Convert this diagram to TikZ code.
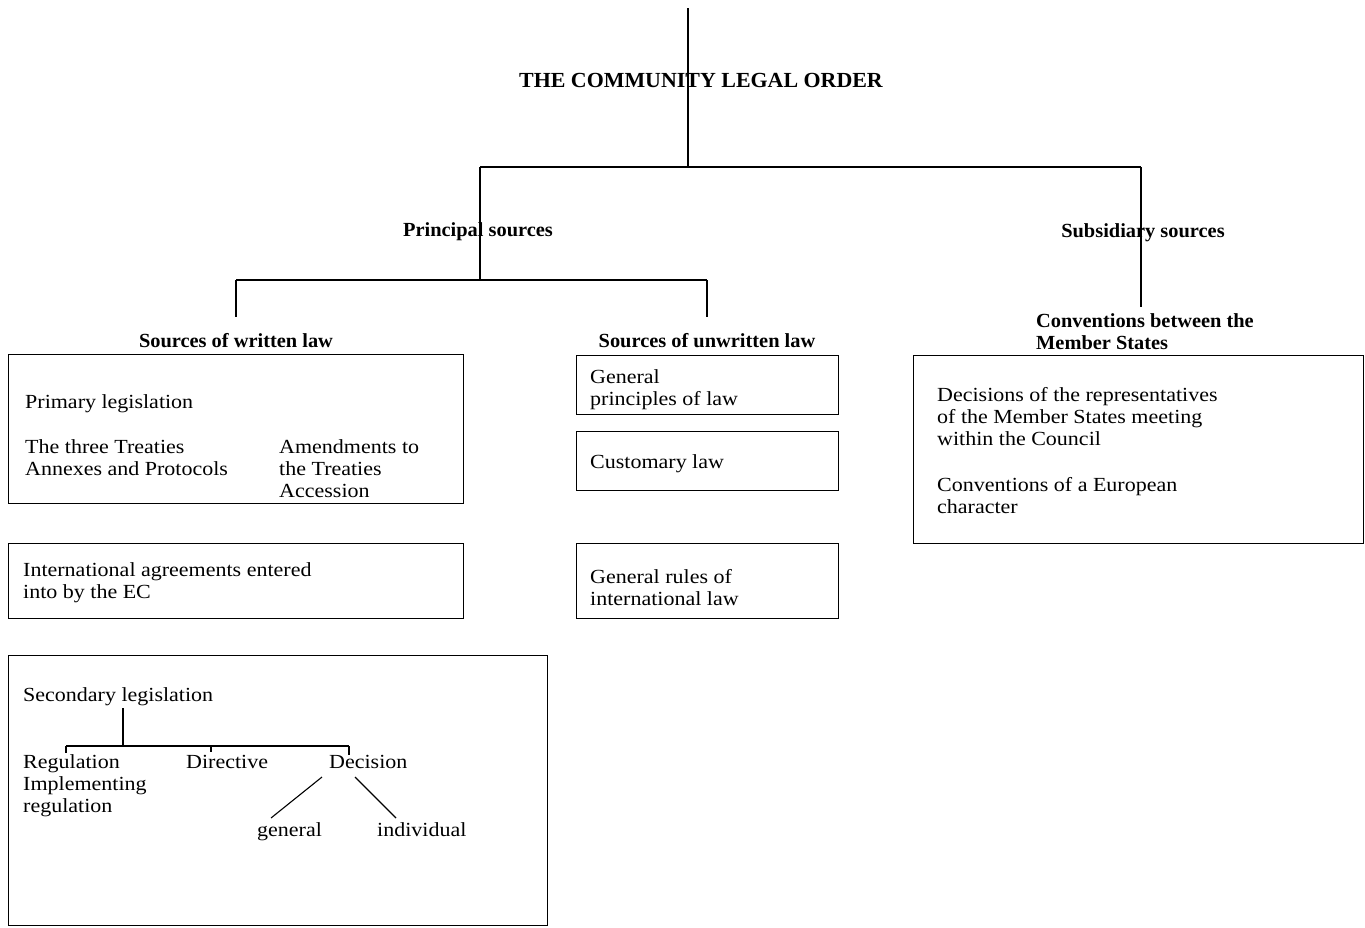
\documentclass[tikz,border=0pt]{standalone}
\usepackage{fontspec}
\setmainfont{Liberation Serif}[FakeStretch=1.1, BoldFeatures={FakeStretch=1.02}]
\begin{document}
\begin{tikzpicture}[x=1pt,y=-1pt,
  every node/.style={inner sep=0pt, font=\fontsize{20}{22}\selectfont},
  txt/.style={anchor=base west},
  hd/.style={font=\fontsize{20}{22}\selectfont\bfseries},
  box/.style={draw, line width=1.1pt},
  ln/.style={line width=1.1pt}]
\useasboundingbox (0,0) rectangle (1365,927);

% headings
\node[hd, font=\fontsize{21.5}{22}\selectfont\bfseries, anchor=base] (title) at (701,87) {THE COMMUNITY LEGAL ORDER};
\node[hd, anchor=base] (princ) at (478,236) {Principal sources};
\node[hd, anchor=base] (subs) at (1143,237) {Subsidiary sources};
\node[hd, anchor=base] (writ) at (236,347) {Sources of written law};
\node[hd, anchor=base] (unwr) at (707,347) {Sources of unwritten law};
\node[hd, txt] (conv) at (1036,327) {\vtop{\hbox{Conventions between the}\hbox{Member States}}};

% tree connectors
\coordinate (t0) at (688,8);
\coordinate (j0) at (688,167);
\coordinate (pl) at (480,167);
\coordinate (sl) at (1141,167);
\coordinate (j1) at (480,280);
\coordinate (wl) at (236,280);
\coordinate (ul) at (707,280);
\coordinate (wl2) at (236,317);
\coordinate (ul2) at (707,317);
\coordinate (s2) at (1141,307);
\draw[ln] (t0) -- (j0);
\draw[ln] (pl) -- (sl);
\draw[ln] (pl) -- (j1);
\draw[ln] (sl) -- (s2);
\draw[ln] (wl) -- (ul);
\draw[ln] (wl) -- (wl2);
\draw[ln] (ul) -- (ul2);

% written law boxes
\node[box, minimum width=455pt, minimum height=149pt, anchor=north west] (b1) at (8,354) {};
\node[txt] (prim) at (25,408) {Primary legislation};
\node[txt] (treat) at (25,453) {\vtop{\hbox{The three Treaties}\hbox{Annexes and Protocols}}};
\node[txt] (amend) at (279,453) {\vtop{\hbox{Amendments to}\hbox{the Treaties}\hbox{Accession}}};

\node[box, minimum width=455pt, minimum height=75pt, anchor=north west] (b2) at (8,543) {};
\node[txt] (intl) at (23,576) {\vtop{\hbox{International agreements entered}\hbox{into by the EC}}};

\node[box, minimum width=539pt, minimum height=270pt, anchor=north west] (b3) at (8,655) {};
\node[txt] (sec) at (23,701) {Secondary legislation};
\node[txt] (reg) at (23,768) {\vtop{\hbox{Regulation}\hbox{Implementing}\hbox{regulation}}};
\node[txt] (dir) at (186,768) {Directive};
\node[txt] (dec) at (329,768) {Decision};
\node[txt] (gen) at (257,836) {general};
\node[txt] (ind) at (377,836) {individual};

\coordinate (s0) at (123,708);
\coordinate (s1) at (123,746);
\coordinate (hr) at (66,746);
\coordinate (hdi) at (211,746);
\coordinate (hc) at (349,746);
\draw[ln] (s0) -- (s1);
\draw[ln] (hr) -- (hc);
\draw[ln] (hr) -- ++(0,7);
\draw[ln] (hdi) -- ++(0,6);
\draw[ln] (hc) -- ++(0,9);
\coordinate (d1) at (322,777);
\coordinate (d2) at (271,818);
\coordinate (d3) at (355,777);
\coordinate (d4) at (396,818);
\draw[ln] (d1) -- (d2);
\draw[ln] (d3) -- (d4);

% unwritten law boxes
\node[box, minimum width=262pt, minimum height=59pt, anchor=north west] (u1) at (576,355) {};
\node[txt] (gp) at (590,383) {\vtop{\hbox{General}\hbox{principles of law}}};
\node[box, minimum width=262pt, minimum height=59pt, anchor=north west] (u2) at (576,431) {};
\node[txt] (cust) at (590,468) {Customary law};
\node[box, minimum width=262pt, minimum height=75pt, anchor=north west] (u3) at (576,543) {};
\node[txt] (gr) at (590,583) {\vtop{\hbox{General rules of}\hbox{international law}}};

% subsidiary box
\node[box, minimum width=450pt, minimum height=188pt, anchor=north west] (r1) at (913,355) {};
\node[txt] (decr) at (937,401) {\vtop{\hbox{Decisions of the representatives}\hbox{of the Member States meeting}\hbox{within the Council}}};
\node[txt] (conve) at (937,491) {\vtop{\hbox{Conventions of a European}\hbox{character}}};
\end{tikzpicture}
\end{document}
